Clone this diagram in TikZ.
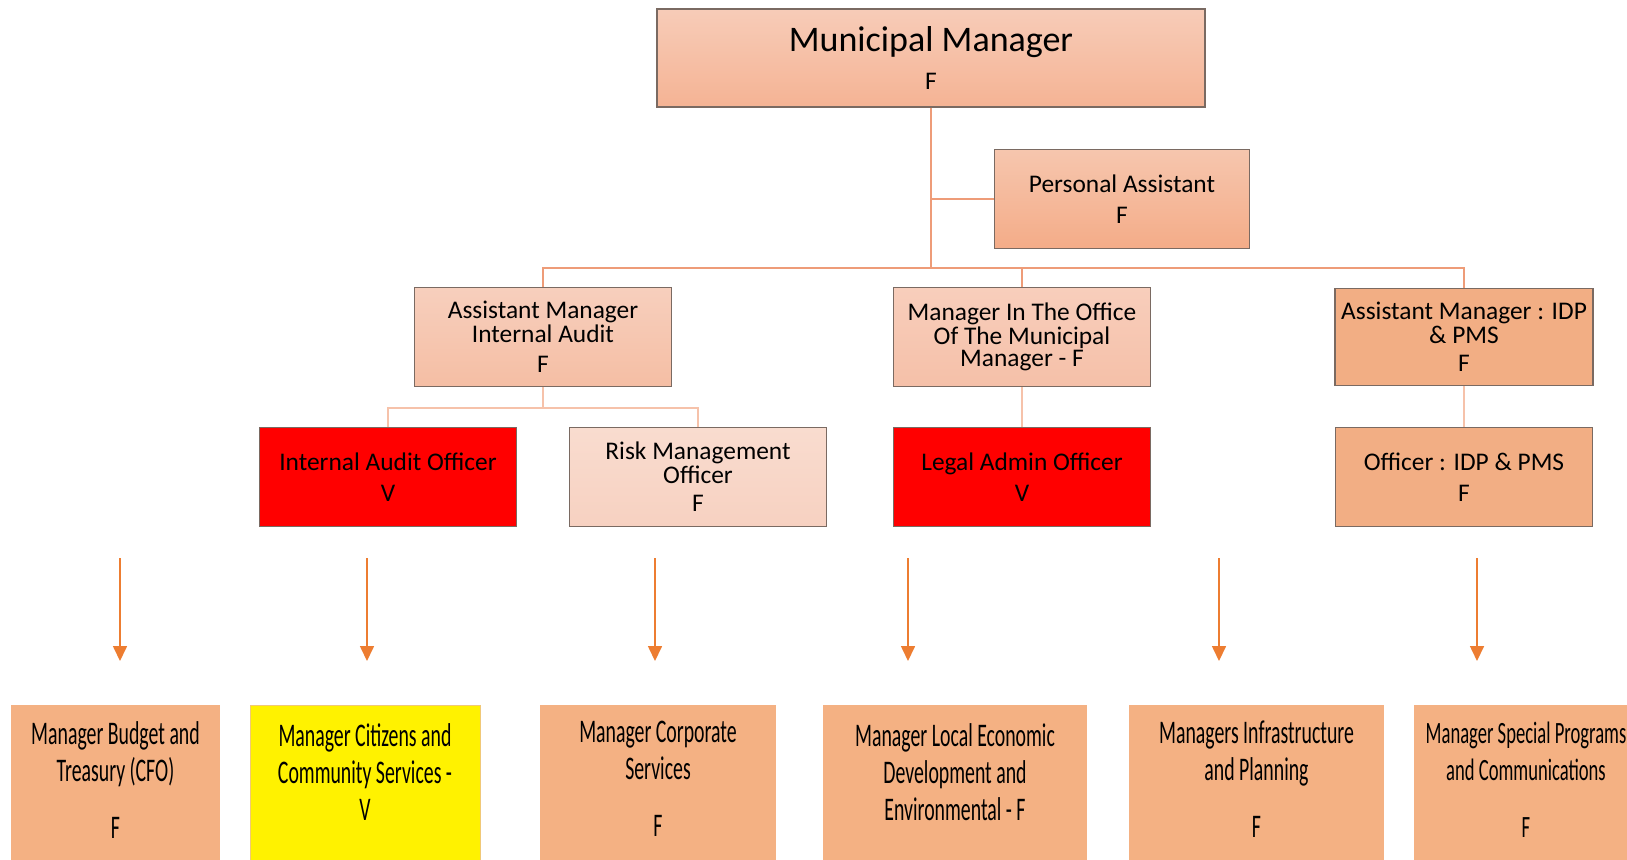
\documentclass[tikz,border=0pt]{standalone}
\usepackage{fontspec}
\setmainfont{Carlito}
\newfontfamily\narrowfont[FakeStretch=0.6]{Carlito}
\usetikzlibrary{positioning, arrows.meta}

\definecolor{postline}{HTML}{7A6A62}
\definecolor{treeline}{HTML}{EE9C78}
\definecolor{subline}{HTML}{F6C2AA}
\definecolor{arrowline}{HTML}{ED7D31}
\definecolor{deptfill}{HTML}{F4B183}
\definecolor{idpfill}{HTML}{F2AE84}

\tikzset{
x=0.5pt, y=-0.5pt, % one unit is one pixel of the chart, y runs down
>={Triangle[width=7pt,length=7.5pt]}, % filled arrow heads
node distance=70pt, % centre to centre of a post and the officer under it
post/.style={draw=postline, line width=0.6pt, rectangle, align=center, inner sep=0pt,
  minimum width=128.5pt, minimum height=49.5pt, font=\fontsize{12.7}{11}\selectfont},
vacant/.style={post, fill=red}, % vacant posts
dept/.style={rectangle, inner sep=0pt, fill=deptfill, minimum height=80pt},
depttext/.style={align=center, inner sep=0pt, font=\narrowfont\fontsize{16.5}{18.5}\selectfont},
tree/.style={draw=treeline, line width=1.4pt},
sub/.style={draw=subline, line width=1.4pt},
arr/.style={->, draw=arrowline, line width=0.8pt, arrowline},
}

\begin{document}
\begin{tikzpicture}
    \clip (0,0) rectangle (1627,859);
    \fill[white] (0,0) rectangle (1627,859);

    % top of the office
    \node[post, minimum width=274pt, minimum height=49pt, top color={rgb,255:red,247;green,204;blue,184},
      bottom color={rgb,255:red,245;green,179;blue,148}] (mm) at (931,58)
      {{\fontsize{18}{18}\selectfont Municipal Manager}\\[7pt]F};
    \node[post, minimum width=127.5pt, top color={rgb,255:red,246;green,198;blue,174},
      bottom color={rgb,255:red,244;green,172;blue,136}] (pa) at (1122,199)
      {Personal Assistant\\[4.5pt]F};

    % second row
    \node[post, top color={rgb,255:red,247;green,207;blue,189}, bottom color={rgb,255:red,245;green,190;blue,164}]
      (amia) at (543,337) {Assistant Manager\\Internal Audit\\[4pt]F};
    \node[post, top color={rgb,255:red,248;green,206;blue,188}, bottom color={rgb,255:red,245;green,192;blue,168}]
      (momm) at (1022,337) {Manager In The Office\\Of The Municipal\\Manager - F};
    \node[post, fill=idpfill, minimum width=129pt, minimum height=48.5pt]
      (amidp) at (1464,337) {Assistant Manager : IDP\\[1pt]\& PMS\\[3pt]F};

    % officers
    \node[vacant] (iao) at (388,477) {Internal Audit Officer\\[4.5pt]V};
    \node[post, top color={rgb,255:red,249;green,220;blue,207}, bottom color={rgb,255:red,247;green,209;blue,193}]
      (rmo) at (698,477) {Risk Management\\[1pt]Officer\\[3pt]F};
    \node[vacant, below of=momm] (lao) {Legal Admin Officer\\[4.5pt]V};
    \node[post, fill=idpfill, below of=amidp] (oidp) {Officer : IDP \& PMS\\[4.5pt]F};

    % departments
    \node[dept, minimum width=104.5pt] (cfo) at (115.5,785) {};
    \node[dept, minimum width=115pt, fill=yellow, draw={rgb,255:red,240;green,200;blue,120}, line width=0.5pt]
      (cit) at (365,785) {};
    \node[dept, minimum width=118pt] (corp) at (658,785) {};
    \node[dept, minimum width=132pt] (led) at (955,785) {};
    \node[dept, minimum width=127.5pt] (inf) at (1256.5,785) {};
    \node[dept, minimum width=120pt] (spc) at (1534,785) {};

    \node[depttext, below=8.5pt of cfo.north] (cfo-text) {Manager Budget and\\Treasury (CFO)\\[10pt]F};
    \node[depttext, below=9.5pt of cit.north] (cit-text) {Manager Citizens and\\Community Services -\\V};
    \node[depttext, below=8pt of corp.north] (corp-text) {Manager Corporate\\Services\\[10pt]F};
    \node[depttext, below=9.5pt of led.north] (led-text) {Manager Local Economic\\Development and\\Environmental - F};
    \node[depttext, below=8pt of inf.north] (inf-text) {Managers Infrastructure\\and Planning\\[10pt]F};
    \node[depttext, below=8.5pt of spc.north, xshift=-4pt, font=\narrowfont\fontsize{15.5}{18.5}\selectfont]
      (spc-text) {Manager Special Programs\\and Communications\\[10pt]F};

    % reporting lines
    \coordinate (bus) at (931,268);
    \coordinate (audit) at (543,408);
    \draw[tree] (mm.south) -- (bus) -| (amia.north);
    \draw[tree] (bus) -| (momm.north);
    \draw[tree] (bus) -| (amidp.north);
    \draw[tree] (mm.south |- pa.west) -- (pa.west);
    \draw[sub] (amia.south) -- (audit) -| (iao.north);
    \draw[sub] (audit) -| (rmo.north);
    \draw[sub] (momm) -- (lao);
    \draw[sub] (amidp) -- (oidp);

    % arrows down to the departments
    \foreach \x in {120,367,655,908,1219,1477}
      \draw[arr] (\x,558) -- (\x,661);
\end{tikzpicture}
\end{document}
